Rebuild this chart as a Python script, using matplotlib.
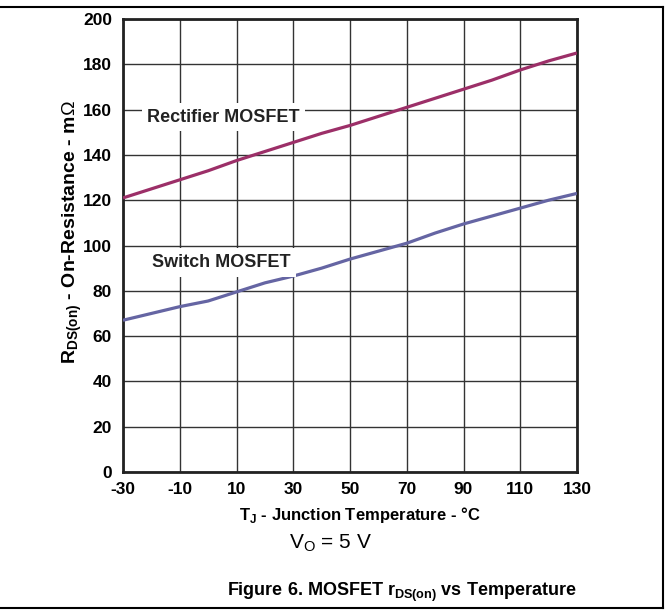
import matplotlib.pyplot as plt
from matplotlib.lines import Line2D

plt.rcParams['font.family'] = ['Liberation Sans', 'DejaVu Sans']
plt.rcParams['mathtext.fontset'] = 'custom'
plt.rcParams['mathtext.rm'] = 'Liberation Sans'
plt.rcParams['mathtext.bf'] = 'Liberation Sans:bold'

# junction temperature (degC)
temp = [-30, -20, -10, 0, 10, 20, 30, 40, 50, 60, 70, 80, 90, 100, 110, 120, 130]
# on-resistance (mOhm)
rectifier = [121, 125, 129, 133, 137.5, 141.5, 145.5, 149.5, 153, 157, 161, 165,
             169, 173, 177.5, 181.5, 185]
switch = [67, 70, 73, 75.5, 79.5, 83.5, 86.5, 90, 94, 97.5, 101, 105.5, 109.5,
          113, 116.5, 120, 123]
xticks = [-30, -10, 10, 30, 50, 70, 90, 110, 130]
yticks = [0, 20, 40, 60, 80, 100, 120, 140, 160, 180, 200]

fig = plt.figure(figsize=(6.69, 6.14), dpi=100)
ax = fig.add_axes([123 / 669, 1 - 472 / 614, 454 / 669, 453 / 614])

ax.plot(temp, rectifier, color='#9c2f68', lw=2.3, solid_capstyle='butt', zorder=3)
ax.plot(temp, switch, color='#6565a3', lw=2.3, solid_capstyle='butt', zorder=3)

ax.set_xlim(-30, 130)
ax.set_ylim(0, 200)
ax.set_xticks(xticks)
ax.set_yticks(yticks)
ax.set_xticklabels([str(t) for t in xticks], fontsize=12.5, fontweight='bold')
ax.set_yticklabels([str(t) for t in yticks], fontsize=12.5, fontweight='bold')
ax.tick_params(axis='x', length=0, pad=7)
ax.tick_params(axis='y', length=0, pad=8)
ax.grid(True, color='#333333', lw=1.0)
for s in ax.spines.values():
    s.set_linewidth(2)
    s.set_color('#222222')

bbox = dict(facecolor='white', edgecolor='none', pad=4)
ax.text(-21.5, 156.7, 'Rectifier MOSFET', fontsize=13, fontweight='bold',
        color='#222222', va='center', bbox=bbox, zorder=4)
ax.text(-19.8, 92.5, 'Switch MOSFET', fontsize=13, fontweight='bold',
        color='#222222', va='center', bbox=bbox, zorder=4)

fig.text(72 / 669, 1 - 232 / 614, r'R$_{\mathbf{DS(on)}}$ - On-Resistance - m$\Omega$',
         rotation=90, ha='center', va='center', fontsize=14, fontweight='bold')
fig.text(360 / 669, 1 - 520 / 614, r'T$_{\mathbf{J}}$ - Junction Temperature - °C',
         ha='center', va='baseline', fontsize=12, fontweight='bold')
fig.text(331 / 669, 1 - 548 / 614, r'V$_{\mathrm{O}}$ = 5 V',
         ha='center', va='baseline', fontsize=15)
fig.text(402 / 669, 1 - 596 / 614, r'Figure 6. MOSFET r$_{\mathbf{DS(on)}}$ vs Temperature',
         ha='center', va='baseline', fontsize=13, fontweight='bold')

# page frame
fig.add_artist(Line2D([0, 663 / 669], [1 - 7 / 614, 1 - 7 / 614], color='black', lw=1.5))
fig.add_artist(Line2D([0, 663 / 669], [1 - 608 / 614, 1 - 608 / 614], color='black', lw=1.5))
fig.add_artist(Line2D([663 / 669, 663 / 669], [1 - 7 / 614, 1 - 608 / 614], color='black', lw=1.5))

fig.savefig('out.png', dpi=100)
